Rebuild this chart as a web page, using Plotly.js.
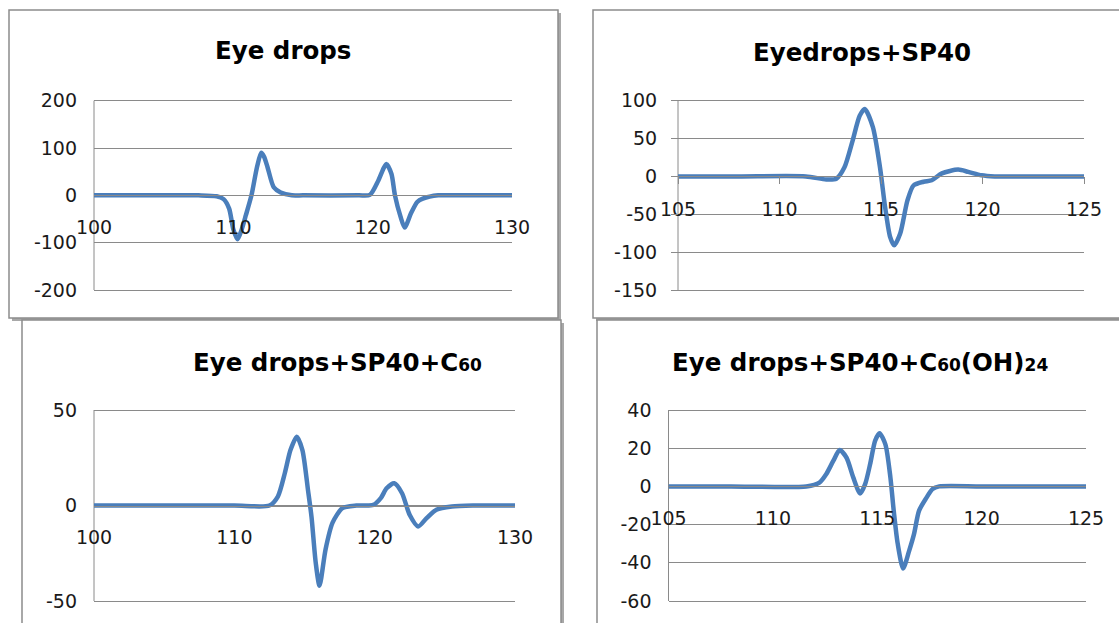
<!DOCTYPE html>
<html>
<head>
<meta charset="utf-8">
<script src="https://cdn.plot.ly/plotly-3.0.1.min.js"></script>
<style>html,body{margin:0;padding:0;background:#fff;}#chart{width:1119px;height:623px;}</style>
</head>
<body>
<div id="chart"></div>
<script>
// ---- Data ----
const titles = [
  'Eye drops',
  'Eyedrops+SP40',
  'Eye drops+SP40+C<span style="font-size:17px">60</span>',
  'Eye drops+SP40+C<span style="font-size:17px">60</span>(OH)<span style="font-size:17px">24</span>'
];

// Panel 1: Eye drops
const x1 = [100, 104, 107.5, 108.8, 109.3, 109.7, 110.0, 110.3, 110.6, 110.9, 111.3, 111.7, 112.0, 112.2, 112.45, 112.9, 113.4, 114.2, 115, 119, 119.8, 120.4, 120.8, 121.0, 121.35, 121.6, 122.0, 122.3, 122.75, 123.2, 123.6, 124.7, 126, 130];
const y1 = [0, 0, 0, -2, -8, -28, -72, -93, -72, -42, 0, 60, 90, 82, 60, 17, 6, 0, 0, 0, 1, 31, 58, 66, 45, 0, -45, -68, -38, -14, -7, 0, 0, 0];

// Panel 2: Eyedrops+SP40
const x2 = [105, 108, 111.3, 112.3, 112.8, 113.2, 113.6, 113.95, 114.2, 114.6, 114.95, 115.2, 115.45, 115.65, 115.95, 116.3, 116.6, 117.1, 117.5, 118.0, 118.8, 119.3, 119.95, 120.6, 122, 125];
const y2 = [0, 0, 0, -4, -3, 12, 47, 80, 89, 65, 12, -40, -80, -91, -75, -32, -12, -7, -5, 4, 9, 6, 1.5, 0, 0, 0];

// Panel 3: Eye drops+SP40+C60
const x3 = [100, 105, 110, 112.5, 113.1, 113.6, 114.0, 114.45, 114.85, 115.25, 115.5, 115.8, 116.07, 116.5, 117.0, 117.7, 118.7, 119.9, 120.45, 120.85, 121.4, 121.95, 122.5, 123.1, 123.7, 124.4, 125.5, 127, 130];
const y3 = [0, 0, 0, 0, 4.7, 17, 29, 36, 29, 8, -6, -30, -42, -23, -9, -1.4, 0, 0.3, 4, 9, 11.6, 6.4, -5, -11, -6.6, -2.2, -0.5, 0, 0];

// Panel 4: Eye drops+SP40+C60(OH)24
const x4 = [105, 108, 111.6, 112.23, 112.56, 112.9, 113.2, 113.53, 113.85, 114.18, 114.42, 114.66, 114.9, 115.11, 115.39, 115.63, 115.79, 115.98, 116.24, 116.52, 116.76, 117.0, 117.32, 117.65, 117.97, 120, 125];
const y4 = [0, 0, 0, 2, 6.5, 13.5, 19, 15, 4.7, -3.7, 1.2, 11.7, 24, 27.8, 22, 4.7, -12.8, -30, -43, -34, -25, -12.8, -6.6, -1.4, 0, 0, 0];

// Axis ranges and tick labels
const xRanges = [[100, 130], [105, 125], [100, 130], [105, 125]];
const xTicks = [[100, 110, 120, 130], [105, 110, 115, 120, 125], [100, 110, 120, 130], [105, 110, 115, 120, 125]];
const xTickText = [['100', '110', '120', '130'], ['105', '110', '115', '120', '125'], ['100', '110', '120', '130'], ['105', '110', '115', '120', '125']];
const yRanges = [[-200, 200], [-150, 100], [-50, 50], [-60, 40]];
const yTicks = [[-200, -100, 0, 100, 200], [-150, -100, -50, 0, 50, 100], [-50, 0, 50], [-60, -40, -20, 0, 20, 40]];
const yTickText = [['-200', '-100', '0', '100', '200'], ['-150', '-100', '-50', '0', '50', '100'], ['-50', '0', '50'], ['-60', '-40', '-20', '0', '20', '40']];

// ---- Layout geometry (pixels) ----
const W = 1119, H = 623;
const PX = v => v / W;
const PY = v => 1 - v / H;

const plotBoxes = [
  {l: 94, r: 512, t: 100.7, b: 290},
  {l: 678, r: 1084, t: 100.7, b: 290},
  {l: 94, r: 515, t: 410, b: 601},
  {l: 668.5, r: 1086, t: 410, b: 601}
];
const panelBoxes = [
  {l: 9, t: 10, r: 558, b: 318},
  {l: 593, t: 10, r: 1130, b: 318},
  {l: 22, t: 320, r: 561, b: 640},
  {l: 597, t: 320, r: 1130, b: 640}
];
const titlePos = [
  {x: 282.5, y: 51},
  {x: 862, y: 52},
  {x: 337.5, y: 362},
  {x: 860, y: 362}
];
const hasTicks = [false, true, false, false];

const xs = [x1, x2, x3, x4];
const ys = [y1, y2, y3, y4];

const gridColor = '#8a8a8a';
const tickFont = {family: 'DejaVu Sans', size: 19, color: '#1a1a1a'};
const EDGE = 2; // px of breathing room so edge gridlines are not clipped

const traces = [];
const layout = {
  width: W, height: H,
  margin: {l: 0, r: 0, t: 0, b: 0},
  paper_bgcolor: '#ffffff',
  plot_bgcolor: 'rgba(0,0,0,0)',
  showlegend: false,
  shapes: [],
  annotations: []
};

for (let i = 0; i < 4; i++) {
  const sfx = i === 0 ? '' : String(i + 1);
  const pb = plotBoxes[i];
  const yr = yRanges[i];
  const unitPerPx = (yr[1] - yr[0]) / (pb.b - pb.t);
  const pad = unitPerPx * EDGE;
  const zeroPx = pb.b - (0 - yr[0]) / unitPerPx;

  traces.push({
    x: xs[i], y: ys[i],
    xaxis: 'x' + sfx, yaxis: 'y' + sfx,
    type: 'scatter', mode: 'lines',
    line: {color: '#4a7ebb', width: 4.5, shape: 'spline', smoothing: 0.7},
    hoverinfo: 'skip', cliponaxis: false
  });

  layout['xaxis' + sfx] = {
    domain: [PX(pb.l), PX(pb.r)],
    anchor: 'free', position: PY(zeroPx),
    range: xRanges[i],
    tickmode: 'array', tickvals: xTicks[i], ticktext: xTickText[i],
    showgrid: false, zeroline: false,
    showline: true, linecolor: gridColor, linewidth: 1,
    ticks: hasTicks[i] ? 'outside' : '', ticklen: 7, tickcolor: gridColor,
    tickfont: tickFont,
    ticklabelstandoff: hasTicks[i] ? 9 : 15,
    fixedrange: true
  };
  layout['yaxis' + sfx] = {
    domain: [PY(pb.b + EDGE), PY(pb.t - EDGE)],
    anchor: 'free', position: PX(pb.l),
    range: [yr[0] - pad, yr[1] + pad],
    tickmode: 'array', tickvals: yTicks[i], ticktext: yTickText[i],
    showgrid: true, gridcolor: gridColor, gridwidth: 1,
    zeroline: false,
    showline: false,
    ticks: hasTicks[i] ? 'outside' : '', ticklen: 7, tickcolor: gridColor,
    tickfont: tickFont,
    ticklabelstandoff: hasTicks[i] ? 10 : 17,
    fixedrange: true
  };

  // vertical value-axis line spanning exactly from the lowest to the highest tick
  layout.shapes.push({
    type: 'line', xref: 'x' + sfx + ' domain', yref: 'y' + sfx, layer: 'below',
    x0: 0, x1: 0, y0: yr[0], y1: yr[1],
    line: {color: gridColor, width: 1}
  });

  layout.annotations.push({
    xref: 'paper', yref: 'paper',
    x: PX(titlePos[i].x), y: PY(titlePos[i].y),
    xanchor: 'center', yanchor: 'middle',
    showarrow: false,
    text: titles[i],
    font: {family: 'DejaVu Sans', size: 24.5, color: '#000000', weight: 'bold'}
  });
}

// Panel frames with a soft drop shadow (top row first, then bottom row)
const frameShapes = [];
[[0, 1], [2, 3]].forEach(row => {
  row.forEach(k => {
    const b = panelBoxes[k];
    frameShapes.push({
      type: 'rect', xref: 'paper', yref: 'paper', layer: 'below',
      x0: PX(b.l + 3), x1: PX(b.r + 3), y0: PY(b.b + 3), y1: PY(b.t + 3),
      fillcolor: '#a8a8a8', line: {width: 0}
    });
  });
  row.forEach(k => {
    const b = panelBoxes[k];
    frameShapes.push({
      type: 'rect', xref: 'paper', yref: 'paper', layer: 'below',
      x0: PX(b.l), x1: PX(b.r), y0: PY(b.b), y1: PY(b.t),
      fillcolor: '#ffffff', line: {color: '#8c8c8c', width: 1.5}
    });
  });
});
layout.shapes = frameShapes.concat(layout.shapes);

Plotly.newPlot('chart', traces, layout, {staticPlot: true, displayModeBar: false});
</script>
</body>
</html>
